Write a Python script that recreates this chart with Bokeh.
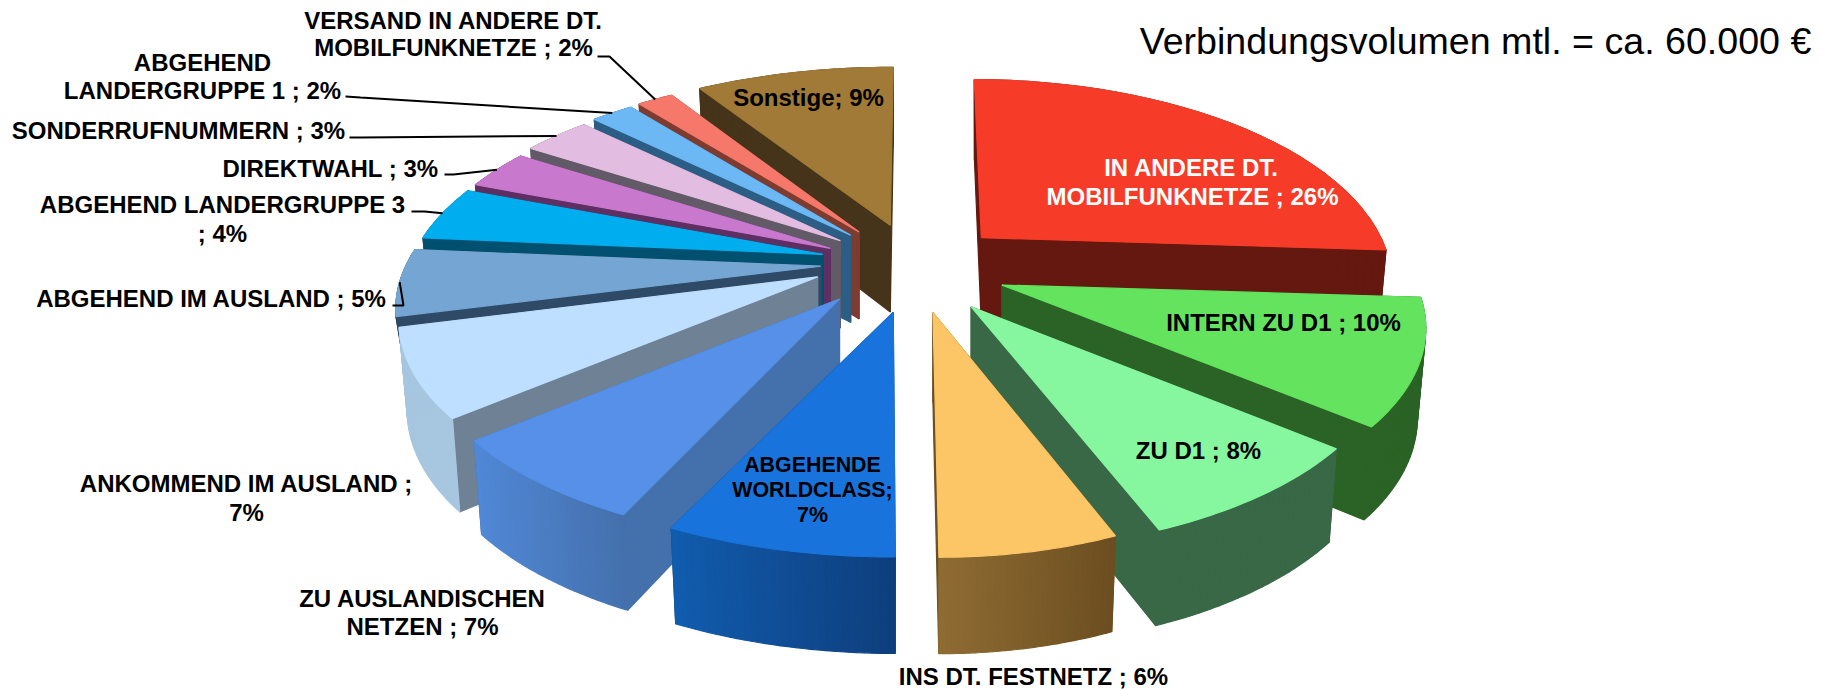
import numpy as np
from bokeh.plotting import figure
from bokeh.models import ColumnDataSource, Range1d
from bokeh.core.properties import value
from bokeh.embed import file_html
from bokeh.resources import INLINE

# ---- data (clockwise from 12 o'clock); labels show the rounded percentages
categories = ["IN ANDERE DT. MOBILFUNKNETZE", "INTERN ZU D1", "ZU D1", "INS DT. FESTNETZ",
              "ABGEHENDE WORLDCLASS", "ZU AUSLANDISCHEN NETZEN", "ANKOMMEND IM AUSLAND",
              "ABGEHEND IM AUSLAND", "ABGEHEND LANDERGRUPPE 3", "DIREKTWAHL", "SONDERRUFNUMMERN",
              "ABGEHEND LANDERGRUPPE 1", "VERSAND IN ANDERE DT. MOBILFUNKNETZE", "Sonstige"]
values = [26, 10, 8, 6, 7, 7, 7, 5.4, 4.4, 3.2, 3.2, 2, 1.7, 9.1]

# ---- colours per slice
top_colors = ["#F63C28", "#63E35E", "#86F79F", "#FCC566", "#1874DC", "#5690E8", "#BEDFFF",
              "#75A6D3", "#00AEEF", "#C879CE", "#E3BCE2", "#6BB8F5", "#F5786A", "#A07A36"]
cut_colors = ["#651810", "#2A6325", "#396846", "#6C4E20", "#0E3E7C", "#4470AC", "#6F8194",
              "#2F4A66", "#02506F", "#5E2F62", "#635A68", "#2B5D85", "#7E3C30", "#46341A"]
arc_left = ["#651810", "#2A6325", "#396846", "#8F6C33", "#115CAE", "#5088D6", "#A7C6E0",
            "#2F4A66", "#02506F", "#5E2F62", "#635A68", "#2B5D85", "#7E3C30", "#46341A"]
arc_right = ["#651810", "#2A6325", "#396846", "#6C4E20", "#0E3E7C", "#4470AC", "#A7C6E0",
             "#2F4A66", "#02506F", "#5E2F62", "#635A68", "#2B5D85", "#7E3C30", "#46341A"]

# ---- label lines
label_text = ["VERSAND IN ANDERE DT.", "MOBILFUNKNETZE ; 2%", "ABGEHEND", "LANDERGRUPPE 1 ; 2%",
              "SONDERRUFNUMMERN ; 3%", "DIREKTWAHL ; 3%", "ABGEHEND LANDERGRUPPE 3", "; 4%",
              "ABGEHEND IM AUSLAND ; 5%", "ANKOMMEND IM AUSLAND ;", "7%", "ZU AUSLANDISCHEN",
              "NETZEN ; 7%", "INS DT. FESTNETZ ; 6%", "ZU D1 ; 8%", "INTERN ZU D1 ; 10%",
              "Sonstige; 9%"]
label_x = [453, 453, 202, 202, 178, 330, 222, 222, 211, 246, 246, 422, 422, 1033, 1198, 1283, 808]
label_y = [20, 47, 62, 90, 130, 168, 204, 233, 298, 483, 512, 598, 626, 676, 450, 322, 97]
white_text = ["IN ANDERE DT.", "MOBILFUNKNETZE ; 26%"]
white_x = [1191, 1192]
white_y = [167, 196]
small_text = ["ABGEHENDE", "WORLDCLASS;", "7%"]
small_x = [812, 812, 812]
small_y = [464, 489, 514]
title_text = "Verbindungsvolumen mtl. = ca. 60.000 €"

# ---- layout of the perspective exploded pie
CX, CY = 913.0, 268.0      # centre before explosion
EX, EY = 93.0, 45.0        # explosion of each slice
RX, RY = 409.0, 192.0      # radii
K = 0.215                  # perspective strength
DEPTH = 88.0
# the lower rim is drawn slightly narrower than the upper one
foot = [0.98, 0.98, 0.98, 0.98, 0.98, 0.98, 0.98, 0.965, 0.98, 0.98, 0.98, 0.98, 0.98, 0.98]
nudge_x = [0, 2, 3, 2, 0, -17, -13, 0, 0, 0, 0, 0, 0, 3]
nudge_y = [0, 0, 2, 0, 0, -5, -12, -6, -4, 0, 0, 0, 0, 0]
scale_x = [0.977, 1.012, 1, 0.94, 1.035, 1, 1, 1.015, 1, 1, 1, 1, 1, 1.03]
lean = [7, 0, 0, 6, 2, 0, 0, 0, 0, 0, 0, 0, 0, -3]

vals = np.array(values, float)
edges = np.concatenate([[0], np.cumsum(vals)]) / vals.sum() * 2 * np.pi


def apex(i):
    m = (edges[i] + edges[i + 1]) / 2
    return CX + EX * np.sin(m) + nudge_x[i], CY - EY * np.cos(m) + nudge_y[i], np.cos(m) * 0.2


def rim(i, th):
    ax, ay, _ = apex(i)
    X, Y = np.sin(th), np.cos(th)
    w = 1 + K * Y
    return ax + scale_x[i] * RX * X / w - Y * lean[i], ay - RY * Y / w


def depth(i, th=None):
    Y = apex(i)[2] + (np.cos(th) if th is not None else 0)
    return DEPTH * (1 - 0.08 * Y)


def foot_x(i, x):
    ax = apex(i)[0]
    return ax + (x - ax) * foot[i]


def mix(a, b, t):
    ca = [int(a[j:j + 2], 16) for j in (1, 3, 5)]
    cb = [int(b[j:j + 2], 16) for j in (1, 3, 5)]
    return "#%02x%02x%02x" % tuple(int(round(u + (v - u) * t)) for u, v in zip(ca, cb))


xs, ys, cols = [], [], []


def add(px, py, c):
    xs.append(list(px))
    ys.append(list(py))
    cols.append(c)


def cut_wall(i, th):
    ax, ay, _ = apex(i)
    rx, ry = rim(i, th)
    add([ax, rx, foot_x(i, rx), ax], [ay, ry, ry + depth(i, th), ay + depth(i)], cut_colors[i])


order = sorted(range(len(vals)), key=lambda i: -np.cos((edges[i] + edges[i + 1]) / 2))
for i in order:
    a0, a1 = edges[i], edges[i + 1]
    right = np.sin((a0 + a1) / 2) > 0
    cut_wall(i, a0 if right else a1)
    cut_wall(i, a1 if right else a0)
    th = np.linspace(a0, a1, 31)
    rx, ry = rim(i, th)
    lo, hi = rx.min(), rx.max()
    for j in range(len(th) - 1):
        t = ((rx[j] + rx[j + 1]) / 2 - lo) / max(hi - lo, 1)
        add([rx[j], rx[j + 1], foot_x(i, rx[j + 1]), foot_x(i, rx[j])],
            [ry[j], ry[j + 1], ry[j + 1] + depth(i, th[j + 1]), ry[j] + depth(i, th[j])],
            mix(arc_left[i], arc_right[i], t))
    ax, ay, _ = apex(i)
    add(np.r_[ax, rx], np.r_[ay, ry], top_colors[i])

p = figure(width=1831, height=689, x_range=Range1d(0, 1831), y_range=Range1d(689, 0),
           x_axis_type=None, y_axis_type=None, toolbar_location=None, output_backend="svg",
           min_border=0, outline_line_color=None)
p.grid.visible = False

p.patches("xs", "ys", fill_color="c", line_color="c", line_width=1.2,
          source=ColumnDataSource(dict(xs=xs, ys=ys, c=cols)))

leader_slices = [12, 11, 10, 9, 8, 7]
leader_x0 = [597, 345, 349, 444, 411, 392]
leader_y0 = [56, 96, 137, 174, 211, 305]
leader_x1 = [609, 360, 360, 453, 424, 403]
leader_y1 = [56, 97, 137, 174, 211, 305]
for s, x0, y0, x1, y1 in zip(leader_slices, leader_x0, leader_y0, leader_x1, leader_y1):
    ex, ey = rim(s, (edges[s] + edges[s + 1]) / 2)
    p.line([x0, x1, float(ex)], [y0, y1, float(ey)], line_color="black", line_width=2)


def texts(t, x, y, size, color, style):
    p.text(x=x, y=y, text=t, text_align="center", text_baseline="middle",
           text_font=value("Liberation Sans"), text_font_size=size, text_font_style=style,
           text_color=color)


texts(label_text, label_x, label_y, "24px", "black", "bold")
texts(white_text, white_x, white_y, "24px", "white", "bold")
texts(small_text, small_x, small_y, "21.4px", "black", "bold")
texts([title_text], [1475], [40], "37.6px", "black", "normal")

open("out.html", "w").write(file_html(p, INLINE))
